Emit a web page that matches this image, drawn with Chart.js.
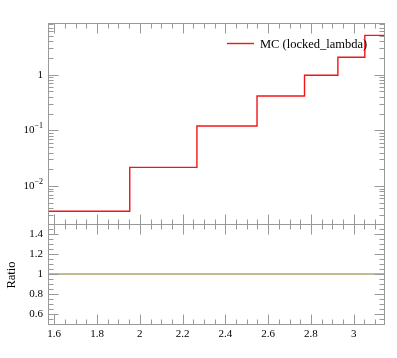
<!DOCTYPE html>
<html>
<head>
<meta charset="utf-8">
<script src="https://cdn.jsdelivr.net/npm/chart.js@4/dist/chart.umd.min.js"></script>
<style>
  body { margin: 0; background: #fff; }
  .wrap { position: relative; width: 397px; height: 358px; }
  canvas { position: absolute; left: 0; top: 0; }
</style>
</head>
<body>
<div class="wrap">
  <canvas id="main" width="397" height="358"></canvas>
  <canvas id="ratio" width="397" height="358"></canvas>
</div>
<script>
// bin edges (x) and bin contents
const binEdges = [1.5708, 1.953, 2.267, 2.548, 2.770, 2.926, 3.052, 3.1416]
const mcValues = [0.00353, 0.0217, 0.120, 0.415, 0.975, 2.05, 5.07]
const ratioValues = [1, 1, 1, 1, 1, 1, 1]
const seriesName = "MC (locked_lambda)"
const xTickLabels = ["1.6", "1.8", "2", "2.2", "2.4", "2.6", "2.8", "3"]
const ratioTickLabels = ["0.6", "0.8", "1", "1.2", "1.4"]

const FONT = '"Liberation Serif", "DejaVu Serif", serif'
const frameColor = "#999"

function histPoints(vals){
    // one point per edge, the last one repeats the last bin
    return binEdges.map((e, i) => ({x: e, y: vals[Math.min(i, vals.length - 1)]}))
}

function crisp(v){ return Math.round(v) + 0.5 }

// draws the box, inward ticks and tick labels from the chart's own scales
const framePlugin = {
    id: "frame",
    afterDraw(chart, args, opts){
        const {ctx, chartArea: a, scales: {x, y}} = chart
        ctx.save()
        ctx.strokeStyle = frameColor
        ctx.lineWidth = 1
        const L = crisp(a.left), R = crisp(a.right), T = crisp(a.top), B = crisp(a.bottom)
        ctx.strokeRect(L, T, R - L, B - T)

        ctx.beginPath()
        // x ticks every 0.05, major every 0.2
        for(let k = 32; k <= 62; k++){
            const v = k * 0.05
            if(v < x.min || v > x.max) continue
            const px = crisp(x.getPixelForValue(v))
            const len = k % 4 === 0 ? 10 : 5
            ctx.moveTo(px, B); ctx.lineTo(px, B - len)
            ctx.moveTo(px, T); ctx.lineTo(px, T + len)
        }
        // y ticks
        for(const t of opts.yTicks(y)){
            const py = crisp(y.getPixelForValue(t.v))
            const len = t.major ? 10 : 5
            ctx.moveTo(L, py); ctx.lineTo(L + len, py)
            ctx.moveTo(R, py); ctx.lineTo(R - len, py)
        }
        ctx.stroke()

        ctx.fillStyle = "#000"
        ctx.font = "11px " + FONT
        if(opts.xLabels){
            ctx.textAlign = "center"
            ctx.textBaseline = "middle"
            xTickLabels.forEach(s => {
                ctx.fillText(s, x.getPixelForValue(parseFloat(s)), 334)
            })
        }
        ctx.textBaseline = "middle"
        for(const t of opts.yTicks(y)){
            if(!t.label) continue
            const py = y.getPixelForValue(t.v)
            if(t.sup){
                ctx.font = "11px " + FONT
                const w1 = ctx.measureText(t.label).width
                ctx.font = "8px " + FONT
                const w2 = ctx.measureText(t.sup).width
                ctx.textAlign = "left"
                ctx.font = "11px " + FONT
                ctx.fillText(t.label, 43 - w1 - w2, py)
                ctx.font = "8px " + FONT
                ctx.fillText(t.sup, 43 - w2, py - 4)
            } else {
                ctx.font = "11px " + FONT
                ctx.textAlign = "right"
                ctx.fillText(t.label, 43, py)
            }
        }
        if(opts.drawExtra) opts.drawExtra(ctx)
        ctx.restore()
    }
}

function logTicks(y){
    const out = []
    for(let d = -3; d <= 1; d++){
        for(let m = 1; m <= 9; m++){
            const v = m * Math.pow(10, d)
            if(v < y.min || v > y.max) continue
            let t = {v: v, major: m === 1}
            if(m === 1){
                if(d === 0) t.label = "1"
                else { t.label = "10"; t.sup = "\u2212" + Math.abs(d) }
            }
            out.push(t)
        }
    }
    return out
}

function ratioTicks(y){
    const out = []
    for(let k = 10; k <= 30; k++){
        const v = k * 0.05
        const t = {v: v, major: k % 4 === 0}
        if(t.major){
            const s = ratioTickLabels.find(l => Math.abs(parseFloat(l) - v) < 1e-6)
            if(s) t.label = s
        }
        out.push(t)
    }
    return out
}

const hiddenX = {type: "linear", min: Math.PI / 2, max: Math.PI, display: false}

new Chart(document.getElementById("main").getContext("2d"), {
    type: "line",
    data: {
        datasets: [{
            data: histPoints(mcValues),
            stepped: "before",
            borderColor: "rgb(245, 20, 20)",
            borderWidth: 1.4,
            pointRadius: 0,
            fill: false
        }]
    },
    options: {
        responsive: false,
        animation: false,
        devicePixelRatio: 1,
        layout: {padding: {left: 48, right: 13, top: 23, bottom: 134}},
        scales: {
            x: hiddenX,
            y: {type: "logarithmic", min: 0.002084, max: 8.47, display: false}
        },
        plugins: {
            legend: {display: false},
            tooltip: {enabled: false},
            frame: {
                yTicks: logTicks,
                xLabels: false,
                drawExtra(ctx){
                    ctx.strokeStyle = "rgb(245, 20, 20)"
                    ctx.lineWidth = 1.4
                    ctx.beginPath()
                    ctx.moveTo(227, 43.5); ctx.lineTo(254, 43.5)
                    ctx.stroke()
                    ctx.fillStyle = "#000"
                    ctx.font = "12.5px " + FONT
                    ctx.textAlign = "left"
                    ctx.textBaseline = "alphabetic"
                    ctx.fillText(seriesName, 260, 48)
                }
            }
        }
    },
    plugins: [framePlugin]
})

new Chart(document.getElementById("ratio").getContext("2d"), {
    type: "line",
    data: {
        datasets: [{
            data: histPoints(ratioValues),
            stepped: "before",
            borderColor: "#aaa670",
            borderWidth: 1.4,
            pointRadius: 0,
            fill: false
        }]
    },
    options: {
        responsive: false,
        animation: false,
        devicePixelRatio: 1,
        layout: {padding: {left: 48, right: 13, top: 224, bottom: 34}},
        scales: {
            x: hiddenX,
            y: {type: "linear", min: 0.5, max: 1.5, display: false}
        },
        plugins: {
            legend: {display: false},
            tooltip: {enabled: false},
            frame: {
                yTicks: ratioTicks,
                xLabels: true,
                drawExtra(ctx){
                    ctx.fillStyle = "#000"
                    ctx.font = "12.5px " + FONT
                    ctx.textAlign = "center"
                    ctx.textBaseline = "middle"
                    ctx.translate(12, 275)
                    ctx.rotate(-Math.PI / 2)
                    ctx.fillText("Ratio", 0, 0)
                }
            }
        }
    },
    plugins: [framePlugin]
})
</script>
</body>
</html>
